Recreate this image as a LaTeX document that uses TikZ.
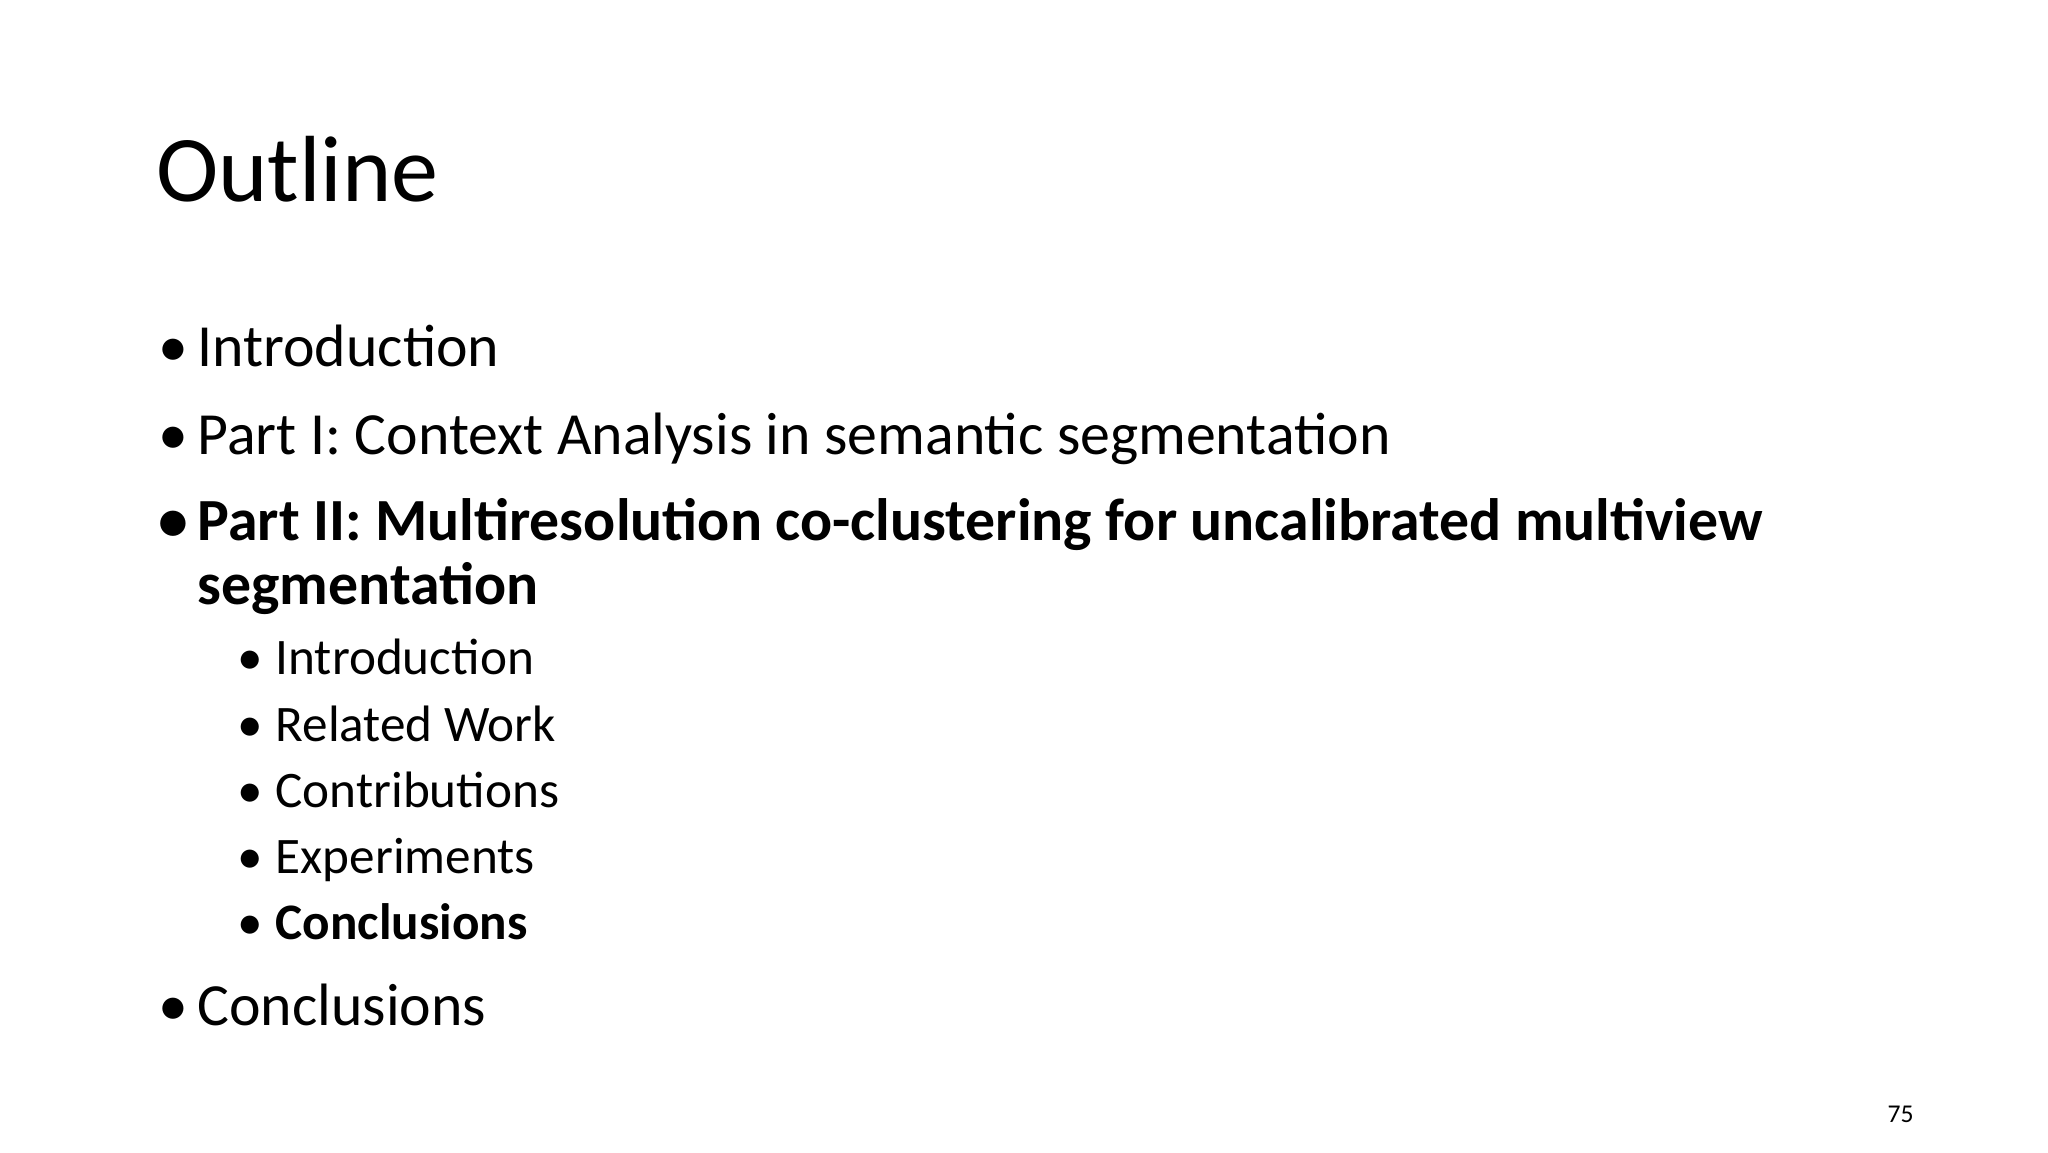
\documentclass[tikz,border=0pt]{standalone}
\usepackage{fontspec}
\setmainfont{Carlito}
\tikzset{
 lone/.style={anchor=base west,inner sep=0pt,font=\fontsize{29.9}{36}\selectfont},
 ltwo/.style={anchor=base west,inner sep=0pt,font=\fontsize{25.6}{31}\selectfont},
}
\begin{document}
\begin{tikzpicture}[x=1pt,y=1pt]
\useasboundingbox[fill=white] (0,0) rectangle (1024,-576);
\node[anchor=base west,inner sep=0pt,font=\fontsize{47}{56}\selectfont] (title) at (78,-100.5) {Outline};
\node[lone] (b1) at (79,-183) {•};
\node[lone] (t1) at (98.6,-183) {Introduction};
\node[lone] (b2) at (79,-227) {•};
\node[lone] (t2) at (98.6,-227) {Part I: Context Analysis in semantic segmentation};
\node[lone] (b3) at (79,-270) {\bfseries •};
\node[lone] (t3) at (98.6,-270) {\bfseries Part II: Multiresolution co-clustering for uncalibrated multiview};
\node[lone] (t3b) at (98.6,-302) {\bfseries segmentation};
\node[ltwo] (s1b) at (118.5,-337) {•};
\node[ltwo] (s1) at (137.6,-337) {Introduction};
\node[ltwo] (s2b) at (118.5,-370.5) {•};
\node[ltwo] (s2) at (137.6,-370.5) {Related Work};
\node[ltwo] (s3b) at (118.5,-403.5) {•};
\node[ltwo] (s3) at (137.6,-403.5) {Contributions};
\node[ltwo] (s4b) at (118.5,-436.6) {•};
\node[ltwo] (s4) at (137.6,-436.6) {Experiments};
\node[ltwo] (s5b) at (118.5,-469.7) {•};
\node[ltwo] (s5) at (137.6,-469.7) {\bfseries Conclusions};
\node[lone] (b4) at (79,-512.7) {•};
\node[lone] (t4) at (98.6,-512.7) {Conclusions};
\node[anchor=base east,inner sep=0pt,font=\fontsize{12.8}{15}\selectfont] (pg) at (957,-561) {75};
\end{tikzpicture}
\end{document}
